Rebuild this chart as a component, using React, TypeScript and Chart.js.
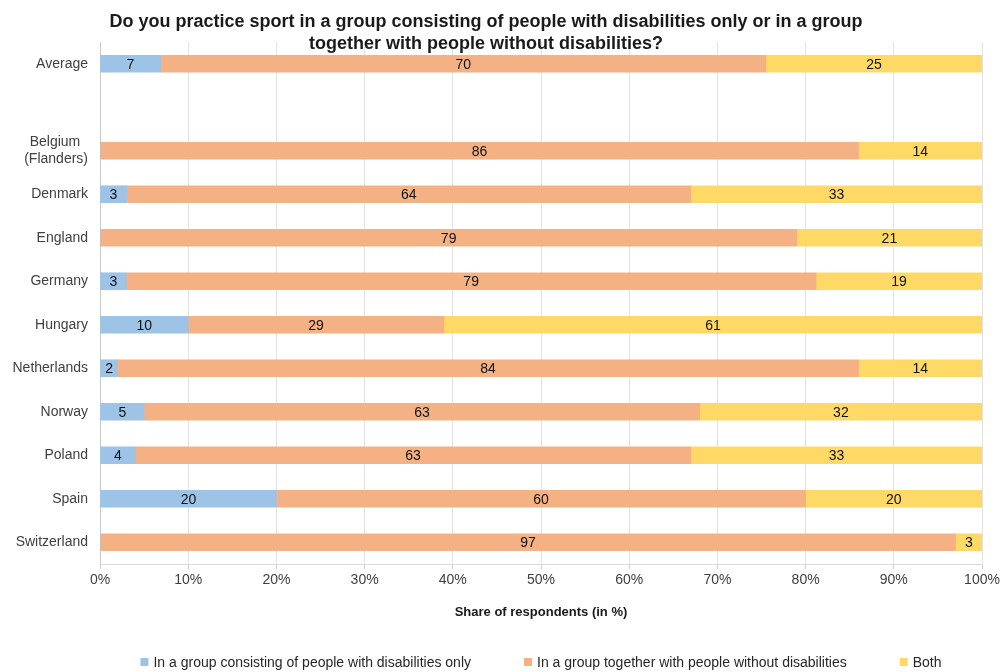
import React, { useEffect, useRef } from 'react';
import { Chart, registerables } from 'chart.js';

Chart.register(...registerables);

const titleLines = [
  'Do you practice sport in a group consisting of people with disabilities only or in a group',
  'together with people without disabilities?',
];
const xAxisTitle = 'Share of respondents (in %)';

const categories: (string | string[])[] = [
  'Average',
  '',
  ['Belgium  ', '(Flanders)'],
  'Denmark',
  'England',
  'Germany',
  'Hungary',
  'Netherlands',
  'Norway',
  'Poland',
  'Spain',
  'Switzerland',
];

const seriesNames = [
  'In a group consisting of people with disabilities only',
  'In a group together with people without disabilities',
  'Both',
];

const disabilitiesOnly = [7, null, 0, 3, 0, 3, 10, 2, 5, 4, 20, 0];
const togetherGroup = [70, null, 86, 64, 79, 79, 29, 84, 63, 63, 60, 97];
const both = [25, null, 14, 33, 21, 19, 61, 14, 32, 33, 20, 3];

const xTicks = [0, 10, 20, 30, 40, 50, 60, 70, 80, 90, 100];

const colors = ['#9DC3E6', '#F4B183', '#FFD966'];
const FONT = "'Liberation Sans', Arial, sans-serif";

const rawSeries = [disabilitiesOnly, togetherGroup, both];
const totals = categories.map((_, i) =>
  rawSeries.reduce((s, arr) => s + (arr[i] ?? 0), 0)
);
const shares = rawSeries.map((arr) =>
  arr.map((v, i) => (v === null ? null : totals[i] ? (v / totals[i]) * 100 : 0))
);

const overlayPlugin = {
  id: 'overlay',
  afterDatasetsDraw(chart: any) {
    const ctx = chart.ctx;
    ctx.save();
    ctx.font = `14px ${FONT}`;
    ctx.fillStyle = '#111';
    ctx.textAlign = 'center';
    ctx.textBaseline = 'middle';
    chart.data.datasets.forEach((ds: any, di: number) => {
      const meta = chart.getDatasetMeta(di);
      meta.data.forEach((el: any, i: number) => {
        const v = rawSeries[di][i];
        if (!v) return;
        const cx = (el.x + el.base) / 2;
        ctx.fillText(String(v), cx, el.y + 1);
      });
    });
    ctx.restore();
  },
  afterDraw(chart: any) {
    const ctx = chart.ctx;
    const area = chart.chartArea;
    ctx.save();
    ctx.font = `bold 18px ${FONT}`;
    ctx.fillStyle = '#1a1a1a';
    ctx.textAlign = 'center';
    ctx.textBaseline = 'middle';
    ctx.fillText(titleLines[0], 486, 22);
    ctx.fillText(titleLines[1], 486, 44);
    const cx = (area.left + area.right) / 2;
    ctx.font = `bold 13px ${FONT}`;
    ctx.fillText(xAxisTitle, cx, 612);
    ctx.font = `14px ${FONT}`;
    const box = 8;
    const gapBoxText = 5;
    const gapItems = 53;
    const widths = seriesNames.map((n) => box + gapBoxText + ctx.measureText(n).width);
    const total = widths.reduce((a, b) => a + b, 0) + gapItems * (widths.length - 1);
    let x = cx - total / 2;
    const y = 662;
    ctx.textAlign = 'left';
    seriesNames.forEach((n, i) => {
      ctx.fillStyle = colors[i];
      ctx.fillRect(x, y - box / 2, box, box);
      ctx.fillStyle = '#262626';
      ctx.fillText(n, x + box + gapBoxText, y + 1);
      x += widths[i] + gapItems;
    });
    ctx.restore();
  },
};

export default function App() {
  const ref = useRef<HTMLCanvasElement | null>(null);
  useEffect(() => {
    document.body.style.margin = '0';
    if (!ref.current) return;
    const chart = new Chart(ref.current, {
      type: 'bar',
      data: {
        labels: categories,
        datasets: seriesNames.map((name, i) => ({
          label: name,
          data: shares[i] as any,
          backgroundColor: colors[i],
          borderWidth: 0,
          barThickness: 17,
        })),
      },
      options: {
        indexAxis: 'y',
        animation: false,
        responsive: false,
        maintainAspectRatio: false,
        layout: { padding: { top: 42, right: 18, left: 0, bottom: 0 } },
        plugins: {
          legend: { display: false },
          title: { display: false },
          tooltip: { enabled: false },
        },
        scales: {
          x: {
            stacked: true,
            min: 0,
            max: 100,
            afterBuildTicks: (scale: any) => {
              scale.ticks = xTicks.map((v) => ({ value: v }));
            },
            afterFit: (scale: any) => {
              scale.height = 108;
              scale.paddingRight = 0;
              scale.paddingLeft = 0;
            },
            ticks: {
              callback: (v: any) => `${v}%`,
              font: { family: FONT, size: 14 },
              color: '#404040',
              padding: 3,
              maxRotation: 0,
            },
            grid: {
              color: '#e3e3e3',
              lineWidth: 1,
              drawTicks: true,
              tickLength: 5,
              tickColor: '#d0d0d0',
            },
            border: { display: true, color: '#d9d9d9', width: 1 },
          },
          y: {
            stacked: true,
            afterFit: (scale: any) => {
              scale.width = 100;
            },
            ticks: {
              font: { family: FONT, size: 14 },
              color: '#404040',
              padding: 12,
              autoSkip: false,
            },
            grid: { display: false, drawTicks: false },
            border: { display: true, color: '#c8c8c8', width: 1 },
          },
        },
      },
      plugins: [overlayPlugin],
    });
    return () => chart.destroy();
  }, []);
  return (
    <div style={{ width: 1000, height: 672 }}>
      <canvas ref={ref} width={1000} height={672} style={{ display: 'block' }} />
    </div>
  );
}
